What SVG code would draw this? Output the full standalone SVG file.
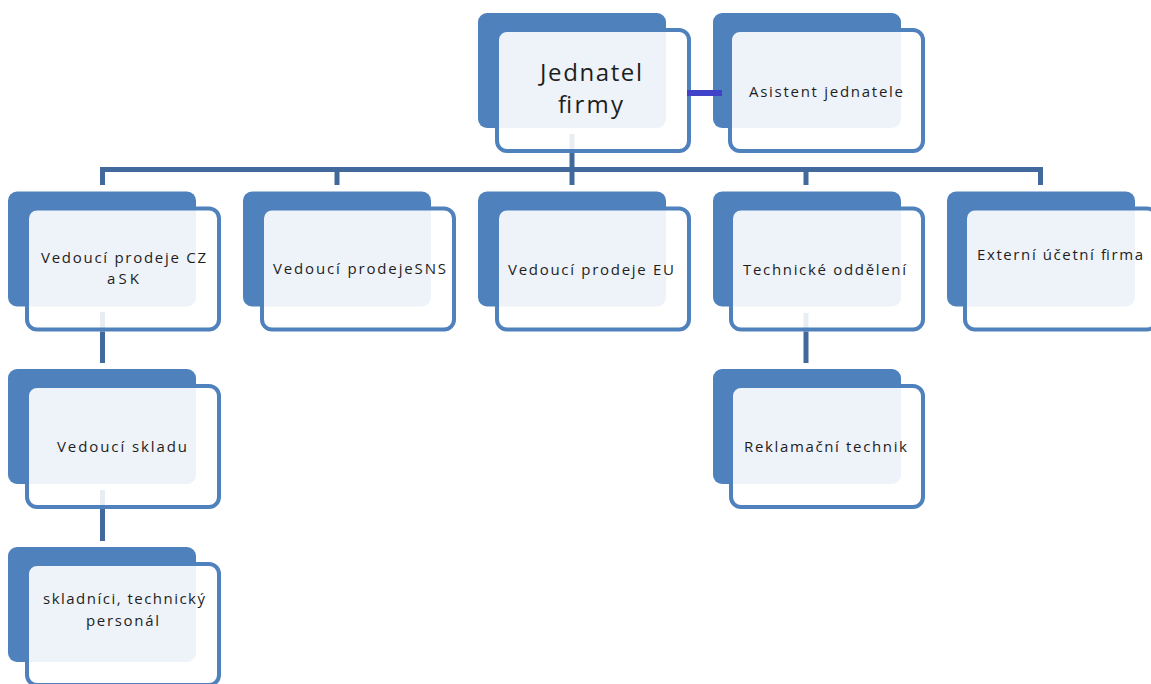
<svg xmlns="http://www.w3.org/2000/svg" width="1151" height="684" viewBox="0 0 1151 684">
<style>
.back{fill:#4f81bd}
.front{fill:#ffffff;fill-opacity:0.9;stroke:#4f81bd;stroke-width:4}
.t{font-family:"Open Sans","Liberation Sans",sans-serif;font-size:15px;fill:#1e1e1e;text-anchor:middle}
.big{font-size:24px}
.c{stroke:#41699b;stroke-width:5;fill:none}
.faint{stroke:#41699b;stroke-width:5;stroke-opacity:0.12;fill:none}
</style>
<rect width="1151" height="684" fill="#ffffff"/>
<g id="node-jednatel">
<rect class="back" x="478" y="13" width="188" height="115" rx="9"/>
<rect class="front" x="497" y="30" width="192" height="121" rx="10"/>
<text class="t big" x="591" y="81" textLength="102" lengthAdjust="spacing">Jednatel</text>
<text class="t big" x="590.5" y="113" textLength="65" lengthAdjust="spacing">firmy</text>
</g>
<g id="node-asistent">
<rect class="back" x="713" y="13" width="188" height="115" rx="9"/>
<rect class="front" x="730" y="30" width="193" height="121" rx="10"/>
<text class="t" x="826" y="97" textLength="154" lengthAdjust="spacing">Asistent jednatele</text>
</g>
<g id="node-cz">
<rect class="back" x="8" y="191.5" width="188" height="115" rx="9"/>
<rect class="front" x="27" y="208.5" width="192" height="121" rx="10"/>
<text class="t" x="123.5" y="263" textLength="165" lengthAdjust="spacing">Vedoucí prodeje CZ</text>
<text class="t" x="123" y="284" textLength="32" lengthAdjust="spacing">aSK</text>
</g>
<g id="node-sns">
<rect class="back" x="243" y="191.5" width="188" height="115" rx="9"/>
<rect class="front" x="262" y="208.5" width="192" height="121" rx="10"/>
<text class="t" x="359.5" y="274" textLength="173" lengthAdjust="spacing">Vedoucí prodejeSNS</text>
</g>
<g id="node-eu">
<rect class="back" x="478" y="191.5" width="188" height="115" rx="9"/>
<rect class="front" x="497" y="208.5" width="192" height="121" rx="10"/>
<text class="t" x="591" y="275" textLength="166" lengthAdjust="spacing">Vedoucí prodeje EU</text>
</g>
<g id="node-technicke">
<rect class="back" x="713" y="191.5" width="188" height="115" rx="9"/>
<rect class="front" x="731" y="208.5" width="192" height="121" rx="10"/>
<text class="t" x="824.5" y="275" textLength="163" lengthAdjust="spacing">Technické oddělení</text>
</g>
<g id="node-externi">
<rect class="back" x="947" y="191.5" width="188" height="115" rx="9"/>
<rect class="front" x="965" y="208.5" width="192" height="121" rx="10"/>
<text class="t" x="1060" y="260" textLength="166" lengthAdjust="spacing">Externí účetní firma</text>
</g>
<g id="node-sklad">
<rect class="back" x="8" y="369" width="188" height="115" rx="9"/>
<rect class="front" x="27" y="386" width="192" height="121" rx="10"/>
<text class="t" x="122" y="452" textLength="130" lengthAdjust="spacing">Vedoucí skladu</text>
</g>
<g id="node-reklamacni">
<rect class="back" x="713" y="369" width="188" height="115" rx="9"/>
<rect class="front" x="731" y="386" width="192" height="121" rx="10"/>
<text class="t" x="825.5" y="452" textLength="163" lengthAdjust="spacing">Reklamační technik</text>
</g>
<g id="node-skladnici">
<rect class="back" x="8" y="547" width="188" height="115" rx="9"/>
<rect class="front" x="27" y="564" width="192" height="121" rx="10"/>
<text class="t" x="124" y="604" textLength="162" lengthAdjust="spacing">skladníci, technický</text>
<text class="t" x="122.5" y="626" textLength="73" lengthAdjust="spacing">personál</text>
</g>
<g id="connectors">
<line class="faint" x1="572" y1="134" x2="572" y2="151"/>
<line class="c" x1="572" y1="153" x2="572" y2="169.5"/>
<path class="c" d="M102.5,185 V169.5 H1040.5 V185"/>
<line class="c" x1="337" y1="169.5" x2="337" y2="185"/>
<line class="c" x1="572" y1="169.5" x2="572" y2="185"/>
<line class="c" x1="806" y1="169.5" x2="806" y2="185"/>
<line class="faint" x1="102.5" y1="312" x2="102.5" y2="329"/>
<line class="c" x1="102.5" y1="331.5" x2="102.5" y2="363"/>
<line class="faint" x1="102.5" y1="490" x2="102.5" y2="507"/>
<line class="c" x1="102.5" y1="509" x2="102.5" y2="541"/>
<line class="faint" x1="806" y1="313" x2="806" y2="329"/>
<line class="c" x1="806" y1="331.5" x2="806" y2="363"/>
<line x1="687" y1="93" x2="722" y2="93" stroke="#4043c8" stroke-width="6"/>
</g>
</svg>
